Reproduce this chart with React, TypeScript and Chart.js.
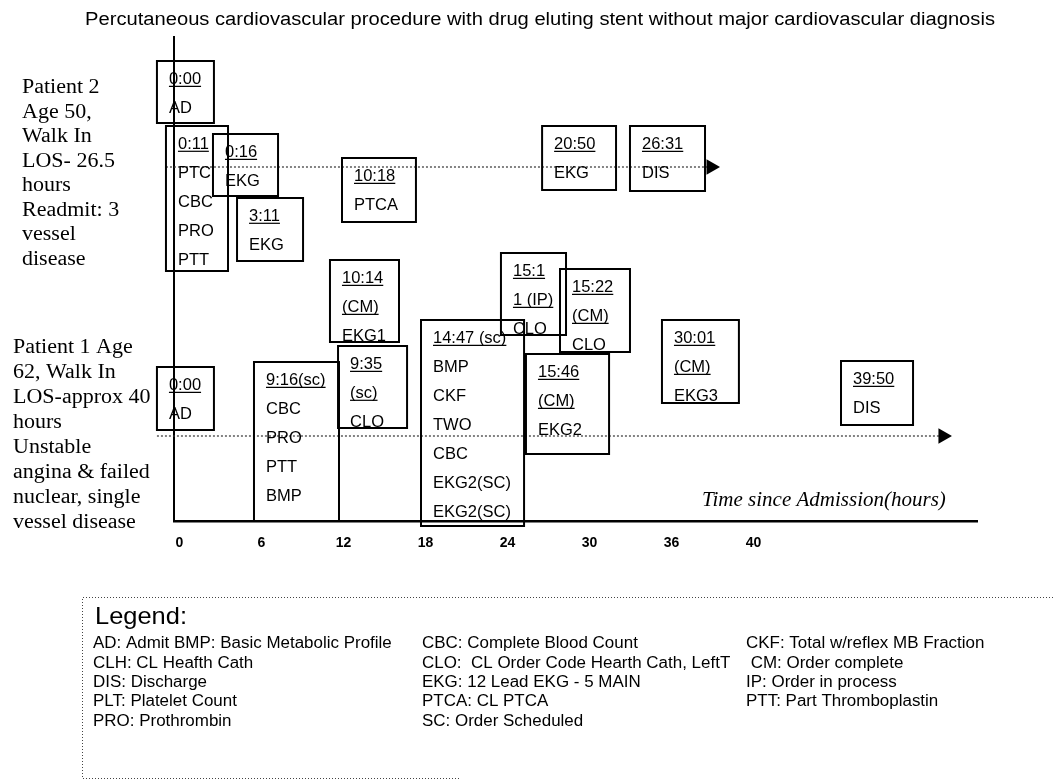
import React, { useEffect, useRef } from "react";
import { Chart, registerables } from "chart.js";

Chart.register(...registerables);

// ---------- text ----------
const chartTitle =
  "Percutaneous cardiovascular procedure with drug eluting stent without major cardiovascular diagnosis";
const axisTitle = "Time since Admission(hours)";
const tickLabels = ["0", "6", "12", "18", "24", "30", "36", "40"];

const patient2Lines = ["Patient 2", "Age 50,", "Walk In", "LOS- 26.5", "hours", "Readmit: 3", "vessel", "disease"];
const patient1Lines = ["Patient 1 Age", "62, Walk In", "LOS-approx 40", "hours", "Unstable", "angina & failed", "nuclear, single", "vessel disease"];

const legendHeader = "Legend:";
const legendCol1 = ["AD: Admit BMP: Basic Metabolic Profile", "CLH: CL Heafth Cath", "DIS: Discharge", "PLT: Platelet Count", "PRO: Prothrombin"];
const legendCol2 = ["CBC: Complete Blood Count", "CLO:  CL Order Code Hearth Cath, LeftT", "EKG: 12 Lead EKG - 5 MAIN", "PTCA: CL PTCA", "SC: Order Scheduled"];
const legendCol3 = ["CKF: Total w/reflex MB Fraction", " CM: Order complete", "IP: Order in process", "PTT: Part Thromboplastin"];

// ---------- timelines (hours / level) ----------
const timelineNames = ["Patient 2", "Patient 1"];
const timelineStart = [-0.99, -1.65];
const timelineEnd = [38.89, 55.86];
const timelineLevel = [35.4, 8.5];

// ---------- events ----------
const eventTimes = ["0:00", "0:11", "0:16", "3:11", "10:18", "20:50", "26:31", "0:00", "9:16(sc)", "10:14", "9:35", "14:47 (sc)", "15:1", "15:22", "15:46", "30:01", "39:50"];
const eventStatus = ["", "", "", "", "", "", "", "", "", "(CM)", "(sc)", "", "1 (IP)", "(CM)", "(CM)", "(CM)", ""];
const eventOrders = [
  ["AD"],
  ["PTC", "CBC", "PRO", "PTT"],
  ["EKG"],
  ["EKG"],
  ["PTCA"],
  ["EKG"],
  ["DIS"],
  ["AD"],
  ["CBC", "PRO", "PTT", "BMP"],
  ["EKG1"],
  ["CLO"],
  ["BMP", "CKF", "TWO", "CBC", "EKG2(SC)", "EKG2(SC)"],
  ["CLO"],
  ["CLO"],
  ["EKG2"],
  ["EKG3"],
  ["DIS"],
];
// box extents on the chart's scales
const boxStart = [-1.65, -0.99, 2.45, 4.21, 11.89, 26.53, 32.96, -1.65, 5.45, 11.01, 11.6, 17.67, 23.52, 27.84, 25.35, 35.3, 48.4];
const boxEnd = [2.52, 3.55, 7.21, 9.04, 17.3, 31.94, 38.45, 2.52, 11.67, 16.06, 16.65, 25.21, 28.28, 32.96, 31.43, 40.93, 53.67];
const boxTop = [46.0, 39.5, 38.7, 32.3, 36.3, 39.5, 39.5, 15.4, 15.9, 26.1, 17.5, 20.1, 26.8, 25.2, 16.7, 20.1, 16.0];
const boxBottom = [39.8, 25.0, 32.5, 26.0, 29.9, 33.1, 33.0, 9.1, 0, 17.9, 9.3, -0.5, 18.6, 16.9, 6.7, 11.8, 9.6];

const SANS = '"Liberation Sans", Arial, Helvetica, sans-serif';
const SERIF = '"Liberation Serif", "Times New Roman", serif';

function drawText(ctx: CanvasRenderingContext2D, text: string, x: number, y: number, font: string, sx = 1, align: CanvasTextAlign = "left") {
  ctx.save();
  ctx.font = font;
  ctx.fillStyle = "#000";
  ctx.textAlign = align;
  ctx.textBaseline = "middle";
  ctx.translate(x, y);
  ctx.scale(sx, 1);
  ctx.fillText(text, 0, 0);
  ctx.restore();
}

const diagramPlugin = {
  id: "diagram",
  afterDatasetsDraw(chart: any) {
    const ctx: CanvasRenderingContext2D = chart.ctx;
    const xs = chart.scales.x;
    const ys = chart.scales.y;
    ctx.save();
    ctx.strokeStyle = "#000";
    ctx.fillStyle = "#000";
    for (let i = 0; i < eventTimes.length; i++) {
      const l = xs.getPixelForValue(boxStart[i]);
      const r = xs.getPixelForValue(boxEnd[i]);
      const t = ys.getPixelForValue(boxTop[i]);
      const b = ys.getPixelForValue(boxBottom[i]);
      ctx.lineWidth = 2;
      ctx.strokeRect(l, t, r - l, b - t);
      const rows: { text: string; u: boolean }[] = [{ text: eventTimes[i], u: true }];
      if (eventStatus[i]) rows.push({ text: eventStatus[i], u: true });
      eventOrders[i].forEach((o) => rows.push({ text: o, u: false }));
      ctx.font = `16.5px ${SANS}`;
      ctx.textAlign = "left";
      ctx.textBaseline = "alphabetic";
      rows.forEach((row, j) => {
        const base = t + 17.5 + j * 29 + 5.8;
        ctx.fillText(row.text, l + 12, base);
        if (row.u) {
          const w = ctx.measureText(row.text).width;
          ctx.lineWidth = 1.2;
          ctx.beginPath();
          ctx.moveTo(l + 12, base + 2);
          ctx.lineTo(l + 12 + w, base + 2);
          ctx.stroke();
        }
      });
    }
    ctx.restore();
  },
  afterDraw(chart: any) {
    const ctx: CanvasRenderingContext2D = chart.ctx;
    // title
    drawText(ctx, chartTitle, 540, 20, `18px ${SANS}`, 1.12, "center");
    // axis caption
    drawText(ctx, axisTitle, 702, 500, `italic 21px ${SERIF}`, 1, "left");
    // patient descriptions
    patient2Lines.forEach((s, i) => drawText(ctx, s, 22, 88 + i * 24.5, `20px ${SERIF}`, 1.1));
    patient1Lines.forEach((s, i) => drawText(ctx, s, 13, 348 + i * 25, `20px ${SERIF}`, 1.1));
    // legend box
    ctx.save();
    ctx.strokeStyle = "#444";
    ctx.lineWidth = 1;
    ctx.setLineDash([1, 2]);
    ctx.beginPath();
    ctx.moveTo(1053, 597.5);
    ctx.lineTo(82.5, 597.5);
    ctx.lineTo(82.5, 778.5);
    ctx.lineTo(460, 778.5);
    ctx.stroke();
    ctx.restore();
    drawText(ctx, legendHeader, 95, 617, `24px ${SANS}`, 1.06);
    const f = `16px ${SANS}`;
    legendCol1.forEach((s, i) => drawText(ctx, s, 93, 644 + i * 19.3, f, 1.06));
    legendCol2.forEach((s, i) => drawText(ctx, s, 422, 644 + i * 19.3, f, 1.06));
    legendCol3.forEach((s, i) => drawText(ctx, s, 746, 644 + i * 19.3, f, 1.06));
  },
};

export default function App() {
  const canvasRef = useRef<HTMLCanvasElement | null>(null);

  useEffect(() => {
    if (!canvasRef.current) return;
    const chart = new Chart(canvasRef.current, {
      type: "scatter",
      data: {
        datasets: timelineLevel.map((lvl, i) => ({
          label: timelineNames[i],
          data: [
            { x: timelineStart[i], y: lvl },
            { x: timelineEnd[i], y: lvl },
          ],
          showLine: true,
          borderColor: "#333",
          borderWidth: 1.2,
          borderDash: [2, 2],
          pointRadius: [0, 9],
          pointStyle: "triangle",
          rotation: 90,
          pointBackgroundColor: "#000",
          pointBorderColor: "#000",
          pointBorderWidth: 0,
          clip: false,
        })),
      },
      options: {
        responsive: true,
        maintainAspectRatio: false,
        animation: false,
        events: [],
        layout: { padding: { left: 0, right: 76, top: 37, bottom: 220 } },
        plugins: {
          legend: { display: false },
          title: { display: false },
          tooltip: { enabled: false },
        },
        scales: {
          x: {
            type: "linear",
            min: -0.402,
            max: 58.35,
            afterFit: (s: any) => {
              s.height = 40;
            },
            afterBuildTicks: (s: any) => {
              s.ticks = tickLabels.map((_, i) => ({ value: i * 6 }));
            },
            ticks: {
              autoSkip: false,
              maxRotation: 0,
              padding: 14,
              color: "#000",
              font: { family: SANS, size: 14, weight: "bold" },
              callback: (_v: any, i: number) => tickLabels[i],
            },
            grid: { display: false, drawTicks: false },
            border: { display: true, color: "#000", width: 2.5 },
          },
          y: {
            type: "linear",
            min: 0,
            max: 48.4,
            afterFit: (s: any) => {
              s.width = 174;
            },
            ticks: { display: false },
            grid: { display: false, drawTicks: false },
            border: { display: true, color: "#000", width: 2 },
          },
        },
      } as any,
      plugins: [diagramPlugin],
    });
    return () => chart.destroy();
  }, []);

  return (
    <div style={{ position: "fixed", left: 0, top: 0, width: 1053, height: 781, background: "#fff" }}>
      <canvas ref={canvasRef} />
    </div>
  );
}
